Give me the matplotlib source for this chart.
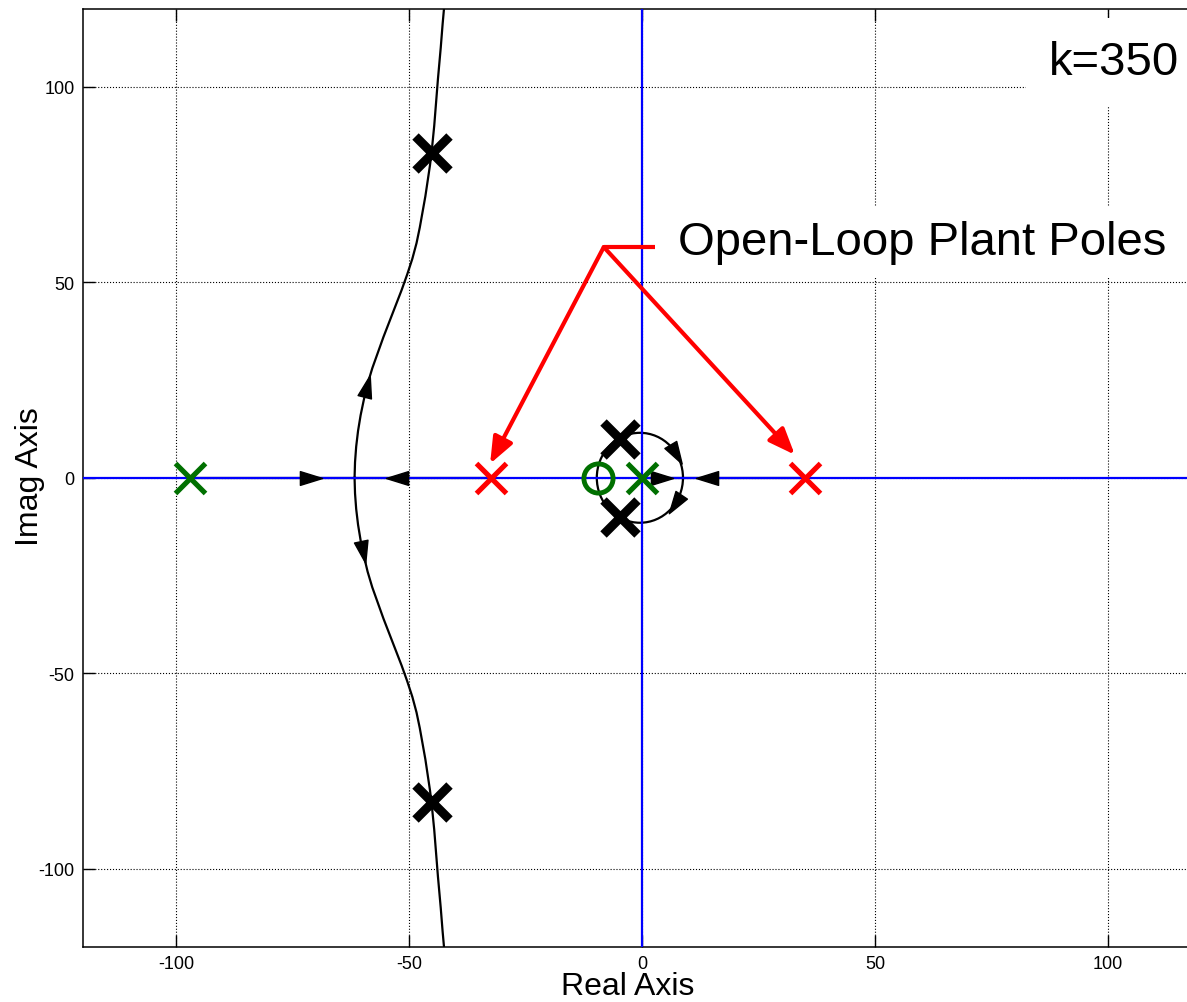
import numpy as np
import matplotlib
matplotlib.use('Agg')
import matplotlib.pyplot as plt
from matplotlib.markers import MarkerStyle
from matplotlib.path import Path
from matplotlib.patches import Ellipse
from matplotlib.transforms import Affine2D

plt.rcParams['font.family'] = ['Liberation Sans', 'DejaVu Sans']
plt.rcParams['axes.unicode_minus'] = False

# upper half of the far-left complex branch (lower half is its mirror)
branch_re = [-61.7, -61.6, -61.35, -60.95, -60.4, -59.7, -58.9, -57.9, -56.7,
             -55.5, -54.2, -52.9, -51.6, -50.4, -49.3, -48.4, -47.7, -47.1,
             -46.5, -46.0, -45.5, -45.1, -44.6, -44.2, -43.8, -43.2, -42.8,
             -42.5, -42.3]
branch_im = [0, 4, 8, 12, 16, 20, 24, 28, 32,
             36, 40, 44, 48, 52, 56, 60, 64, 68,
             72, 76, 80, 84, 90, 96, 102, 110, 116,
             120, 123]

# real-axis segments of the locus
real_segments = [(-97.0, -61.7), (-61.7, -32.5), (0.0, 8.8), (8.8, 35.0)]

# small loop around the compensator zero
loop_center = (-0.45, 0.0)
loop_width = 18.5
loop_height = 23.0

plant_poles = [-32.5, 35.0]          # open-loop plant poles (red)
comp_poles = [-97.0, 0.0]            # compensator poles (green)
comp_zeros = [-9.5]                  # compensator zero
cl_re = [-45.0, -45.0, -4.7, -4.7]   # closed-loop poles at k=350
cl_im = [83.0, -83.0, 10.0, -10.0]

# direction arrows along the real axis: position, heading (+1 right, -1 left)
axis_arrow_x = [-71.0, -52.6, 4.2, 14.0]
axis_arrow_dir = [1, -1, 1, -1]
branch_arrow_im = [23.5, -19.0]
loop_arrow_deg = [32.0, -35.0]

annot_corner = (-8.2, 59.0)
annot_tips = [(-32.6, 3.6), (32.8, 5.9)]

fig = plt.figure(figsize=(11.87, 10.03), dpi=100)
ax = fig.add_axes([0.0699, 0.0548, 0.9419, 0.9357])
ax.set_xlim(-120, 120)
ax.set_ylim(-120, 120)

ax.set_xticks([-100, -50, 0, 50, 100])
ax.set_yticks([-100, -50, 0, 50, 100])
ax.tick_params(direction='in', length=8.5, width=1.0, top=True, right=True,
               labelsize=13, pad=6)
for sp in ax.spines.values():
    sp.set_linewidth(1.1)
ax.grid(True, ls=':', color='k', lw=0.8)
ax.set_axisbelow(True)

# locus lines
bre = np.array(branch_re)
bim = np.array(branch_im)
ax.plot(bre, bim, color='k', lw=1.6, zorder=2)
ax.plot(bre, -bim, color='k', lw=1.6, zorder=2)
for a, b in real_segments:
    ax.plot([a, b], [0, 0], color='k', lw=1.6, zorder=2)
ax.add_patch(Ellipse(loop_center, loop_width, loop_height, fill=False,
                     ec='k', lw=1.6, zorder=2))

ax.axhline(0, color='#0000ff', lw=1.6, zorder=3)
ax.axvline(0, color='#0000ff', lw=1.6, zorder=3)

tri = Path([(1, 0), (-1, 0.62), (-1, -0.62), (1, 0)],
           [Path.MOVETO, Path.LINETO, Path.LINETO, Path.CLOSEPOLY])


def draw_arrow(x, y, dx, dy):
    p0 = ax.transData.transform((x, y))
    p1 = ax.transData.transform((x + dx, y + dy))
    ang = np.degrees(np.arctan2(p1[1] - p0[1], p1[0] - p0[0]))
    m = MarkerStyle(tri, transform=Affine2D().rotate_deg(ang))
    ax.plot([x], [y], marker=m, ms=16, color='k', mec='k', ls='none', zorder=5)


for x, d in zip(axis_arrow_x, axis_arrow_dir):
    draw_arrow(x, 0, d, 0)

for yv in branch_arrow_im:
    yy = abs(yv)
    xv = np.interp(yy, bim, bre)
    dxv = np.interp(yy + 1, bim, bre) - np.interp(yy - 1, bim, bre)
    sgn = np.sign(yv)
    draw_arrow(xv, yv, dxv, 2 * sgn)

a_ax = loop_width / 2
b_ax = loop_height / 2
for deg in loop_arrow_deg:
    t = np.radians(deg)
    x = loop_center[0] + a_ax * np.cos(t)
    y = loop_center[1] + b_ax * np.sin(t)
    draw_arrow(x, y, a_ax * np.sin(t), -b_ax * np.cos(t))

# poles and zeros
ax.plot(plant_poles, [0] * len(plant_poles), 'x', color='#ff0000', ms=22, mew=3.7, zorder=6)
ax.plot(comp_poles, [0] * len(comp_poles), 'x', color='#007000', ms=22, mew=3.7, zorder=6)
ax.plot(comp_zeros, [0] * len(comp_zeros), 'o', mfc='none', mec='#007000', ms=21, mew=3.5, zorder=6)
ax.plot(cl_re, cl_im, 'x', color='k', ms=24, mew=6.5, zorder=6)

# annotation of the open-loop plant poles
ax.plot([annot_corner[0], 2.8], [annot_corner[1], annot_corner[1]],
        color='#ff0000', lw=3, zorder=4, solid_capstyle='butt')
for tip in annot_tips:
    ax.annotate('', xy=tip, xytext=annot_corner, zorder=4,
                arrowprops=dict(arrowstyle='-|>,head_length=0.8,head_width=0.32',
                                color='#ff0000', lw=3, mutation_scale=20,
                                shrinkA=0, shrinkB=0))
ax.text(7.7, 60.4, 'Open-Loop Plant Poles', fontsize=34, ha='left', va='center',
        zorder=7, bbox=dict(fc='white', ec='none', pad=10))
ax.text(87.3, 106.4, 'k=350', fontsize=34, ha='left', va='center',
        zorder=7, bbox=dict(fc='white', ec='none', pad=16))

ax.set_xlabel('Real Axis', fontsize=23)
ax.set_ylabel('Imag Axis', fontsize=23)
ax.xaxis.set_label_coords(0.4875, -0.0416)
ax.yaxis.set_label_coords(-0.0474, 0.502)
ax.xaxis.label.set_va('center')
ax.yaxis.label.set_va('center')

fig.savefig('out.png', dpi=100)
